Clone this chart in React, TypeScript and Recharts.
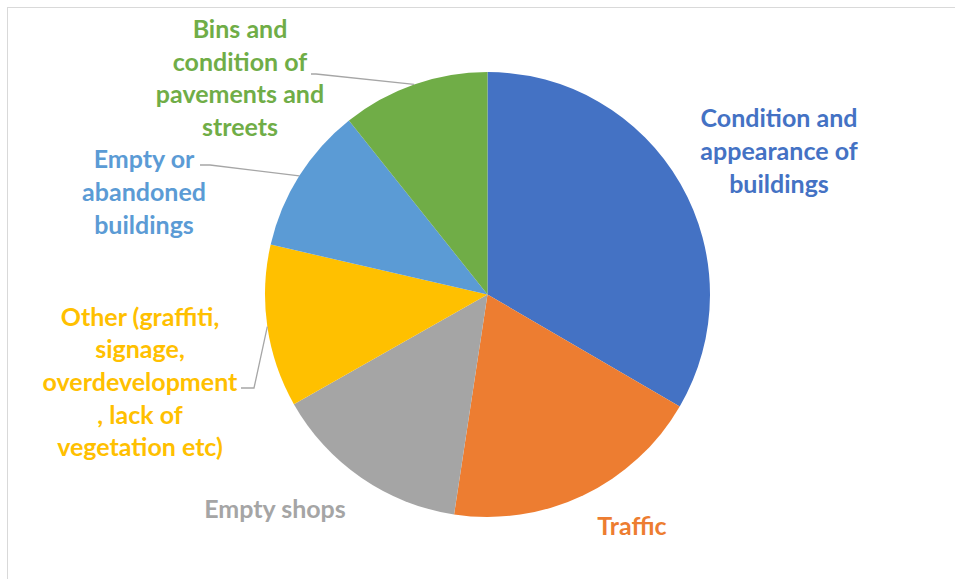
import { Pie, PieChart, Cell } from "recharts"

// issues raised, share of responses (%)
const CATEGORIES = [
  "Condition and appearance of buildings",
  "Traffic",
  "Empty shops",
  "Other (graffiti, signage, overdevelopment, lack of vegetation etc)",
  "Empty or abandoned buildings",
  "Bins and condition of pavements and streets",
]
const VALUES = [33.4, 19.0, 14.4, 11.8, 10.7, 10.7]

// how each label wraps, as in the original chart
const LABEL_LINES = [
  ["Condition and", "appearance of", "buildings"],
  ["Traffic"],
  ["Empty shops"],
  ["Other (graffiti,", "signage,", "overdevelopment", ", lack of", "vegetation etc)"],
  ["Empty or", "abandoned", "buildings"],
  ["Bins and", "condition of", "pavements and", "streets"],
]

const COLORS = ["#4472C4", "#ED7D31", "#A5A5A5", "#FFC000", "#5B9BD5", "#70AD47"]

// label block centre relative to the pie centre, plus where the leader line leaves the text
const LABEL_LAYOUT = [
  { dx: 291.5, dy: -144.5, leader: null },
  { dx: 144.5, dy: 230.5, leader: null },
  { dx: -212.5, dy: 213.5, leader: null },
  { dx: -347.5, dy: 86.5, leader: { x: -246.5, y: 93.5, elbow: 13 } },
  { dx: -343.5, dy: -103.5, leader: { x: -287.5, y: -129.5, elbow: 10 } },
  { dx: -247.5, dy: -217.5, leader: { x: -176.5, y: -220.5, elbow: 5 } },
]

const data = CATEGORIES.map((name, i) => ({ name, value: VALUES[i] }))

const RAD = Math.PI / 180
const LINE_H = 32.7
const FONT = "Lato, 'Open Sans', sans-serif"

const renderLabel = (props: any) => {
  const { cx, cy, midAngle, outerRadius, index } = props
  const lay = LABEL_LAYOUT[index]
  const lines = LABEL_LINES[index]
  const color = COLORS[index]
  const x = cx + lay.dx
  const firstY = cy + lay.dy - ((lines.length - 1) * LINE_H) / 2
  let leader = null
  if (lay.leader) {
    const ex = cx + Math.cos(-midAngle * RAD) * outerRadius
    const ey = cy + Math.sin(-midAngle * RAD) * outerRadius
    const sx = cx + lay.leader.x
    const sy = cy + lay.leader.y
    leader = (
      <polyline
        points={`${sx},${sy} ${sx + lay.leader.elbow},${sy} ${ex},${ey}`}
        fill="none"
        stroke="#A6A6A6"
        strokeWidth={1.3}
      />
    )
  }
  return (
    <g key={`label-${index}`}>
      {leader}
      <text
        x={x}
        y={firstY}
        fill={color}
        textAnchor="middle"
        dominantBaseline="central"
        fontFamily={FONT}
        fontWeight={700}
        fontSize={25}
      >
        {lines.map((line, i) => (
          <tspan key={i} x={x} y={firstY + i * LINE_H}>
            {line}
          </tspan>
        ))}
      </text>
    </g>
  )
}

export default function App() {
  return (
    <div style={{ position: "absolute", left: 0, top: 0, width: 955, height: 579, background: "#fff", overflow: "hidden" }}>
      <div
        style={{
          position: "absolute",
          left: 7,
          top: 7,
          width: 1000,
          height: 1000,
          border: "1.5px solid #D9D9D9",
        }}
      />
      <div style={{ position: "absolute", left: 0, top: 0 }}>
        <PieChart width={955} height={579}>
          <Pie
            data={data}
            dataKey="value"
            nameKey="name"
            cx={482.5}
            cy={289.5}
            outerRadius={222.5}
            startAngle={90}
            endAngle={-270}
            stroke="none"
            labelLine={false}
            label={renderLabel}
            isAnimationActive={false}
          >
            {data.map((entry, index) => (
              <Cell key={`cell-${index}`} fill={COLORS[index]} />
            ))}
          </Pie>
        </PieChart>
      </div>
    </div>
  )
}
